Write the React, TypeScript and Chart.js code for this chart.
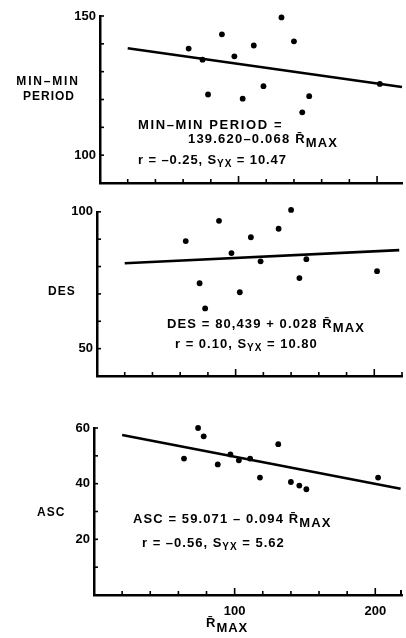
import React, { useEffect, useRef } from "react";
import { Chart, registerables } from "chart.js";

Chart.register(...registerables);

// ---- data ----
const rMax = [64, 74, 78, 88, 97, 103, 111, 118, 131, 140, 146, 151, 202];
const minMinPeriod = [138.3, 134.3, 121.8, 143.4, 135.5, 120.3, 139.4, 124.8, 149.5, 140.9, 115.4, 121.2, 125.6];
const des = [89.3, 73.9, 64.7, 96.7, 84.9, 70.6, 90.7, 81.9, 93.8, 100.7, 75.8, 82.7, 78.3];
const asc = [49.0, 60.0, 57.0, 46.9, 50.5, 48.4, 49.0, 42.2, 54.2, 40.6, 39.3, 38.0, 42.2];
const fitX = [20, 218];
const minMinFit = [138.4, 124.5];
const desFit = [81.2, 86.0];
const ascFit = [57.5, 38.2];
const xTicks = [0, 20, 40, 60, 80, 100, 120, 140, 160, 180, 200];
const xTickLabels = [100, 200];
const minMinTickLabels = [150, 100];
const desTickLabels = [100, 50];
const ascTickLabels = [60, 40, 20];

const FONT = "'Liberation Sans', Arial, Helvetica, sans-serif";
const BAR_R = "R\u0304";

type Seg = { t: string; dy?: number; size?: number };
type Note = { x: number; y: number; size: number; spacing: number; align?: "left" | "center"; segs: Seg[] };

type PanelCfg = {
  top: number;
  h: number;
  left: number;
  right: number;
  plotTop: number;
  bottom: number;
  xMax: number;
  yMin: number;
  yMax: number;
  yLabels: number[];
  values: number[];
  fit: number[];
  showX: boolean;
  rightUpTick: boolean;
  notes: Note[];
};

function drawRich(ctx: CanvasRenderingContext2D, n: Note) {
  ctx.save();
  ctx.fillStyle = "#000";
  ctx.textBaseline = "alphabetic";
  ctx.textAlign = "left";
  const anyCtx = ctx as any;
  const measure = (s: Seg) => {
    ctx.font = `bold ${s.size ?? n.size}px ${FONT}`;
    if ("letterSpacing" in anyCtx) anyCtx.letterSpacing = `${n.spacing}px`;
    return ctx.measureText(s.t).width;
  };
  let total = 0;
  n.segs.forEach((s) => (total += measure(s)));
  let x = n.align === "center" ? n.x - total / 2 : n.x;
  n.segs.forEach((s) => {
    const w = measure(s);
    ctx.fillText(s.t, x, n.y + (s.dy ?? 0));
    x += w;
  });
  ctx.restore();
}

const panels: PanelCfg[] = [
  {
    top: 0,
    h: 200,
    left: 100,
    right: 406,
    plotTop: 16,
    bottom: 183,
    xMax: 218,
    yMin: 90,
    yMax: 150,
    yLabels: minMinTickLabels,
    values: minMinPeriod,
    fit: minMinFit,
    showX: false,
    rightUpTick: false,
    notes: [
      { x: 48, y: 85, size: 12, spacing: 1.8, align: "center", segs: [{ t: "MIN\u2013MIN" }] },
      { x: 49, y: 100, size: 12, spacing: 1, align: "center", segs: [{ t: "PERIOD" }] },
      { x: 138, y: 129, size: 13, spacing: 1.6, segs: [{ t: "MIN\u2013MIN PERIOD =" }] },
      { x: 188, y: 143, size: 13, spacing: 1.2, segs: [{ t: "139.620\u20130.068 " }, { t: BAR_R }, { t: "MAX", dy: 4 }] },
      { x: 138, y: 164, size: 13, spacing: 0.9, segs: [{ t: "r = \u20130.25, S" }, { t: "YX", dy: 3, size: 10 }, { t: " = 10.47" }] },
    ],
  },
  {
    top: 200,
    h: 200,
    left: 97,
    right: 406,
    plotTop: 10,
    bottom: 176,
    xMax: 220,
    yMin: 40,
    yMax: 100,
    yLabels: desTickLabels,
    values: des,
    fit: desFit,
    showX: false,
    rightUpTick: false,
    notes: [
      { x: 48, y: 95, size: 12, spacing: 1, segs: [{ t: "DES" }] },
      { x: 167, y: 128, size: 13, spacing: 1.1, segs: [{ t: "DES = 80,439 + 0.028 " }, { t: BAR_R }, { t: "MAX", dy: 4 }] },
      { x: 175, y: 148, size: 13, spacing: 1, segs: [{ t: "r = 0.10, S" }, { t: "YX", dy: 3, size: 10 }, { t: " = 10.80" }] },
    ],
  },
  {
    top: 400,
    h: 238,
    left: 94,
    right: 402,
    plotTop: 28,
    bottom: 195,
    xMax: 219,
    yMin: 0,
    yMax: 60,
    yLabels: ascTickLabels,
    values: asc,
    fit: ascFit,
    showX: true,
    rightUpTick: true,
    notes: [
      { x: 37, y: 116, size: 12, spacing: 1, segs: [{ t: "ASC" }] },
      { x: 133, y: 123, size: 13, spacing: 1.1, segs: [{ t: "ASC = 59.071 \u2013 0.094 " }, { t: BAR_R }, { t: "MAX", dy: 4 }] },
      { x: 142, y: 147, size: 13, spacing: 1, segs: [{ t: "r = \u20130.56, S" }, { t: "YX", dy: 3, size: 10 }, { t: " = 5.62" }] },
      { x: 206, y: 227, size: 13, spacing: 1, segs: [{ t: BAR_R }, { t: "MAX", dy: 5 }] },
    ],
  },
];

function Panel({ cfg }: { cfg: PanelCfg }) {
  const ref = useRef<HTMLCanvasElement>(null);

  useEffect(() => {
    const canvas = ref.current!;
    const decor = {
      id: "decor" + cfg.top,
      afterDraw(chart: any) {
        const ctx: CanvasRenderingContext2D = chart.ctx;
        const xs = chart.scales.x;
        const ys = chart.scales.y;
        const area = chart.chartArea;
        ctx.save();
        ctx.strokeStyle = "#000";
        ctx.lineWidth = 1.6;
        ctx.lineCap = "butt";
        // y ticks pointing inward
        for (let v = cfg.yMin + 10; v <= cfg.yMax + 0.001; v += 10) {
          const y = ys.getPixelForValue(v);
          ctx.beginPath();
          ctx.moveTo(area.left, y);
          ctx.lineTo(area.left + 4, y);
          ctx.stroke();
        }
        // x ticks pointing inward
        for (let v = 20; v <= cfg.xMax; v += 20) {
          const x = xs.getPixelForValue(v);
          const len = v % 100 === 0 ? 7 : 4;
          ctx.beginPath();
          ctx.moveTo(x, area.bottom);
          ctx.lineTo(x, area.bottom - len);
          ctx.stroke();
        }
        if (cfg.rightUpTick) {
          ctx.lineWidth = 2;
          ctx.beginPath();
          ctx.moveTo(area.right - 1, area.bottom);
          ctx.lineTo(area.right - 1, area.bottom - 5);
          ctx.stroke();
        }
        ctx.restore();
        cfg.notes.forEach((n) => drawRich(ctx, n));
      },
    };

    const chart = new Chart(canvas, {
      type: "scatter",
      data: {
        datasets: [
          {
            data: rMax.map((x, i) => ({ x, y: cfg.values[i] })),
            pointRadius: 2.9,
            pointBackgroundColor: "#000",
            pointBorderWidth: 0,
            showLine: false,
            clip: false,
          },
          {
            data: fitX.map((x, i) => ({ x, y: cfg.fit[i] })),
            showLine: true,
            borderColor: "#000",
            borderWidth: 2.6,
            pointRadius: 0,
            clip: false,
          },
        ],
      },
      options: {
        animation: false,
        responsive: false,
        devicePixelRatio: 1,
        layout: { padding: { top: cfg.plotTop, right: 406 - cfg.right, left: 0, bottom: 0 } },
        plugins: { legend: { display: false }, tooltip: { enabled: false }, title: { display: false } },
        scales: {
          x: {
            type: "linear",
            min: 0,
            max: cfg.xMax,
            grid: { display: false, drawTicks: false },
            border: { display: true, color: "#000", width: 2.5 },
            afterBuildTicks: (s: any) => {
              s.ticks = xTicks.map((v) => ({ value: v }));
            },
            ticks: {
              display: cfg.showX,
              autoSkip: false,
              maxRotation: 0,
              padding: 9,
              color: "#000",
              font: { family: FONT, size: 13, weight: "bold" },
              callback: (v: any) => (xTickLabels.includes(Number(v)) ? String(v) : ""),
            },
            afterFit: (s: any) => {
              s.height = cfg.h - cfg.bottom;
            },
          },
          y: {
            type: "linear",
            min: cfg.yMin,
            max: cfg.yMax,
            grid: { display: false, drawTicks: false },
            border: { display: true, color: "#000", width: 2.5 },
            ticks: {
              stepSize: 10,
              autoSkip: false,
              padding: 4,
              color: "#000",
              font: { family: FONT, size: 13, weight: "bold" },
              callback: (v: any) => (cfg.yLabels.includes(Number(v)) ? String(v) : ""),
            },
            afterFit: (s: any) => {
              s.width = cfg.left;
            },
          },
        },
      } as any,
      plugins: [decor],
    });
    return () => chart.destroy();
  }, [cfg]);

  return (
    <canvas
      ref={ref}
      width={406}
      height={cfg.h}
      style={{ position: "absolute", left: 0, top: cfg.top, width: 406, height: cfg.h }}
    />
  );
}

export default function App() {
  return (
    <div style={{ position: "fixed", left: 0, top: 0, width: 406, height: 638, background: "#fff" }}>
      {panels.map((p) => (
        <Panel key={p.top} cfg={p} />
      ))}
    </div>
  );
}
